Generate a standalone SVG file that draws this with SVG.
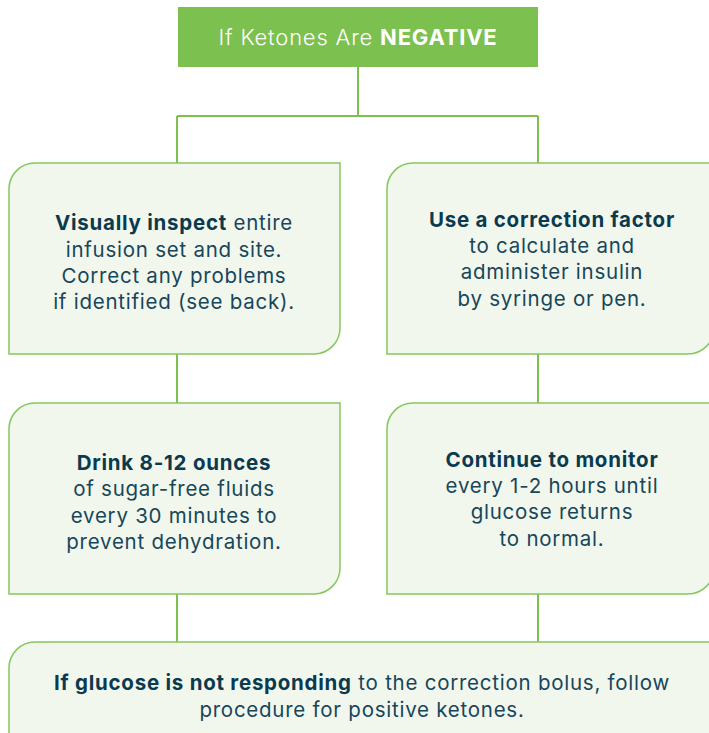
<svg xmlns="http://www.w3.org/2000/svg" width="709" height="733" viewBox="0 0 709 733">
<style>
.box{fill:#f2f7ee;stroke:#86c75c;stroke-width:1.5}
.ln{stroke:#7cc150;stroke-width:2;fill:none}
text{font-family:Inter,"Liberation Sans",sans-serif;font-size:20.5px;letter-spacing:0.75px;fill:#17465a;text-anchor:middle}
.b{font-weight:700;fill:#0b3a4e}
.h{fill:#ffffff;font-size:22px;font-weight:300;letter-spacing:0.8px}
.hb{font-weight:700}
</style>
<rect width="709" height="733" fill="#ffffff"/>
<g id="connectors">
<path class="ln" d="M358,67 V116 M177,116 H538 M177,116 V163 M538,116 V163 M177,354 V403 M538,354 V403 M177,594 V642 M538,594 V642"/>
</g>
<g id="header">
<rect x="178" y="7" width="360" height="60" fill="#7cc150"/>
<text class="h" x="358" y="45">If Ketones Are <tspan class="hb">NEGATIVE</tspan></text>
</g>
<g id="inspect">
<path class="box" d="M9,189 A26,26 0 0 1 35,163 H340 V328 A26,26 0 0 1 314,354 H9 Z"/>
<text x="174" y="230"><tspan class="b">Visually inspect</tspan> entire</text>
<text x="174" y="257">infusion set and site.</text>
<text x="174" y="283">Correct any problems</text>
<text x="174" y="309">if identified (see back).</text>
</g>
<g id="correction">
<path class="box" d="M387,189 A26,26 0 0 1 413,163 H714 V328 A26,26 0 0 1 688,354 H387 Z"/>
<text class="b" x="552" y="227">Use a correction factor</text>
<text x="552" y="253">to calculate and</text>
<text x="552" y="279">administer insulin</text>
<text x="552" y="306">by syringe or pen.</text>
</g>
<g id="drink">
<path class="box" d="M9,429 A26,26 0 0 1 35,403 H340 V568 A26,26 0 0 1 314,594 H9 Z"/>
<text class="b" x="174" y="470">Drink 8-12 ounces</text>
<text x="174" y="496">of sugar-free fluids</text>
<text x="174" y="523">every 30 minutes to</text>
<text x="174" y="549">prevent dehydration.</text>
</g>
<g id="monitor">
<path class="box" d="M387,429 A26,26 0 0 1 413,403 H714 V568 A26,26 0 0 1 688,594 H387 Z"/>
<text class="b" x="552" y="467">Continue to monitor</text>
<text x="552" y="493">every 1-2 hours until</text>
<text x="552" y="519">glucose returns</text>
<text x="552" y="546">to normal.</text>
</g>
<g id="notresponding">
<path class="box" d="M9,668 A26,26 0 0 1 35,642 H714 V760 H9 Z"/>
<text x="362" y="690"><tspan class="b">If glucose is not responding</tspan> to the correction bolus, follow</text>
<text x="362" y="717">procedure for positive ketones.</text>
</g>
</svg>
